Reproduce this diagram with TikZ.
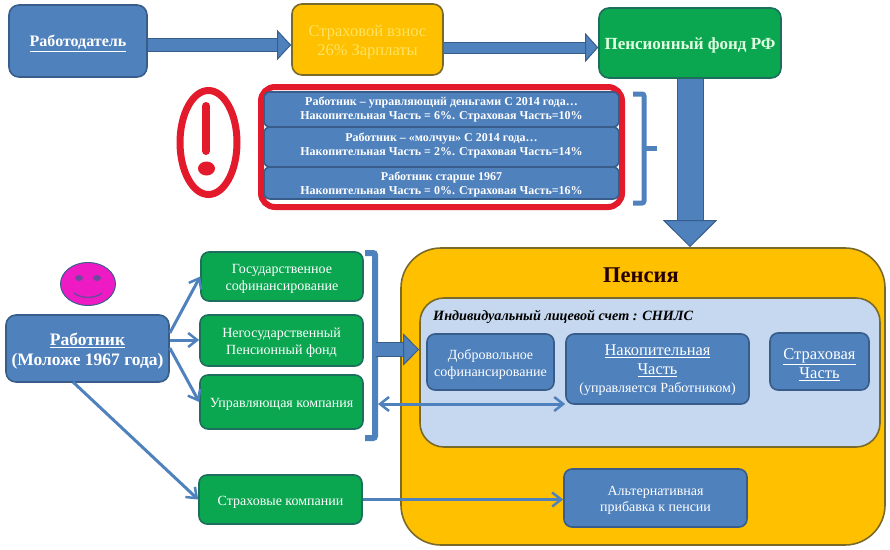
\documentclass[tikz,border=0pt]{standalone}
\usepackage{fontspec}
\setmainfont{Liberation Serif}
\usetikzlibrary{arrows.meta,shapes.geometric}
\definecolor{boxblue}{HTML}{4F81BD}
\definecolor{edgeblue}{HTML}{385D8A}
\definecolor{boxgreen}{HTML}{0AA650}
\definecolor{edgegreen}{HTML}{1E6E5E}
\definecolor{boxorange}{HTML}{FFC000}
\definecolor{edgeorange}{HTML}{7A6A2A}
\definecolor{paleblue}{HTML}{C6D8EF}
\definecolor{alertred}{HTML}{E21A2C}
\definecolor{smilepink}{HTML}{EE1BC4}
\newcommand{\fsz}[2]{\fontsize{#1}{#2}\selectfont}
\newcommand{\up}{\rule{0pt}{1em}}
\tikzset{
  box/.style={rounded corners=8pt,draw=#1,line width=1.6pt,text=white,align=center,inner sep=0pt},
  bluebox/.style={box=edgeblue,fill=boxblue},
  rowbox/.style={bluebox,rounded corners=6pt,font=\bfseries\fsz{12}{14}},
  greenbox/.style={box=edgegreen,fill=boxgreen,font=\fsz{14}{16.5}},
  sized/.style 2 args={minimum width=#1pt,minimum height=#2pt},
  barb/.tip={Straight Barb[length=9pt,width=14pt,line width=2.5pt]},
  thin arrow/.style={draw=boxblue,line width=3pt,-barb},
  block arrow/.style args={#1/#2/#3}{draw=edgeblue,line width=1pt,double=boxblue,double distance=#1pt,-{Triangle[length=#2pt,width=#3pt,fill=boxblue,line width=1pt]}},
  bracket/.style={draw=boxblue,line width=#1pt,rounded corners=2pt},
}
\begin{document}
\begin{tikzpicture}[x=1pt,y=-1pt]
  \useasboundingbox (0,0) rectangle (890,549);
  \node[bluebox,rounded corners=10pt,sized={138}{72},font=\bfseries\fsz{16}{18}] (employer) at (78,41) {\up\underline{Работодатель}};
  \node[box=edgeorange,fill=boxorange,rounded corners=10pt,sized={151}{71},text=yellow!45!boxorange!60!white,font=\fsz{16.5}{19}] (premium) at (367.5,39.5) {\up Страховой взнос\\26\% Зарплаты};
  \node[greenbox,rounded corners=10pt,sized={182}{70},text=green!12!white,font=\bfseries\fsz{17}{18}] (fund) at (690,43) {\up Пенсионный фонд РФ};
  \draw[block arrow=12/14/30] ([yshift=-4pt]employer.east) -- ([yshift=-5.5pt]premium.west);
  \draw[block arrow=10/13/29] ([yshift=-8pt]premium.east) -- ([yshift=-4.5pt]fund.west);

  \node[draw=alertred,line width=6pt,rounded corners=14pt,sized={361}{120}] (redframe) at (441.5,147) {};
  \node[rowbox,sized={355}{35}] (managing) at (441.5,109.5) {Работник – управляющий деньгами  С 2014 года…\\Накопительная Часть = 6\%. Страховая Часть=10\%};
  \node[rowbox,sized={355}{40}] (silent) at (441.5,147) {Работник – «молчун»  С 2014 года…\\Накопительная Часть = 2\%. Страховая Часть=14\%\rule[-5pt]{0pt}{0pt}};
  \node[rowbox,sized={355}{32}] (older) at (441.5,183) {\up Работник старше 1967\\Накопительная Часть = 0\%. Страховая Часть=16\%};

  \node[ellipse,draw=alertred,line width=7pt,minimum width=57pt,minimum height=104pt] (alert) at (208.5,142.5) {};
  \draw[alertred,line width=8pt,line cap=round] (206,106) -- (206,151);
  \fill[alertred] (206.5,168.5) ellipse (8.5 and 7);

  \draw[bracket=5] (633,94) -- (644,94) -- (644,203) -- (633,203);
  \draw[bracket=5] (644,148) -- (657,148);

  \node[box=edgeorange,fill=boxorange,rounded corners=40pt,sized={484}{297}] (pension) at (643,396.5) {};
  \node[box=edgeorange,fill=paleblue,rounded corners=24pt,sized={460}{149}] (account) at (650,372.5) {};
  \draw[block arrow=25/27/54] (fund.south) -- (pension.north -| fund.south);
  \node[font=\bfseries\fsz{22.5}{26},text=black!85!red] (title) at (641,275) {Пенсия};
  \node[anchor=west,inner sep=0pt,font=\bfseries\itshape\fsz{14.2}{16}] (snils) at (433,317) {Индивидуальный лицевой счет : СНИЛС};
  \node[bluebox,sized={127}{56},font=\fsz{14}{17}] (voluntary) at (490.5,362) {\up Добровольное\\софинансирование};
  \node[bluebox,sized={183}{70},font=\fsz{14}{18.5}] (funded) at (657.5,369) {\up{\fsz{16.4}{18.5}\underline{Накопительная}}\\{\fsz{16.4}{18.5}\underline{Часть}}\\(управляется  Работником)};
  \node[bluebox,sized={99}{57},font=\fsz{16.5}{19}] (insured) at (819.5,361.5) {\up\underline{Страховая}\\\underline{Часть}};
  \node[bluebox,sized={183}{58},font=\fsz{14}{16}] (bonus) at (655.5,498) {\up Альтернативная\\прибавка к пенсии};

  \node[ellipse,draw=edgeblue,line width=1pt,fill=smilepink,minimum width=55pt,minimum height=43pt] (smile) at (88,284) {};
  \fill[edgeblue!70!smilepink] (79,278) ellipse (4 and 3) (97,278) ellipse (4 and 3);
  \draw[edgeblue!70!smilepink,line width=1.5pt] (74,293) .. controls (82,299) and (94,299) .. (102,293);

  \node[bluebox,rounded corners=10pt,sized={163}{67},font=\bfseries\fsz{17.5}{20}] (worker) at (87.5,348.5) {\up\underline{Работник}\\(Моложе 1967 года)};
  \node[greenbox,sized={162}{49}] (state) at (282,276.5) {\up Государственное\\софинансирование};
  \node[greenbox,sized={163}{51}] (private) at (281.5,340.5) {\up Негосударственный\\Пенсионный  фонд};
  \node[greenbox,sized={163}{54}] (company) at (281.5,402) {\up Управляющая  компания};
  \node[greenbox,sized={163}{49}] (insurers) at (280.5,499.5) {\up Страховые  компании};

  \draw[thin arrow] (worker.east |- 0,333) -- (state.west);
  \draw[thin arrow] (worker.east |- 0,340) -- (private.west |- 0,340);
  \draw[thin arrow] (worker.east |- 0,348) -- (company.west);
  \draw[thin arrow] (73,382) -- (insurers.west);
  \draw[thin arrow] (insurers.east) -- (bonus.west |- insurers.east);

  \draw[bracket=6] (365,253) -- (375,253) -- (375,438) -- (365,438);
  \coordinate (bracketout) at (376,349.5);
  \coordinate (bracketback) at (378,404);
  \draw[block arrow=13/16/32] (bracketout) -- (account.west |- bracketout);
  \draw[draw=boxblue,line width=3pt,barb-barb] (bracketback) -- (funded.west |- bracketback);
\end{tikzpicture}
\end{document}
